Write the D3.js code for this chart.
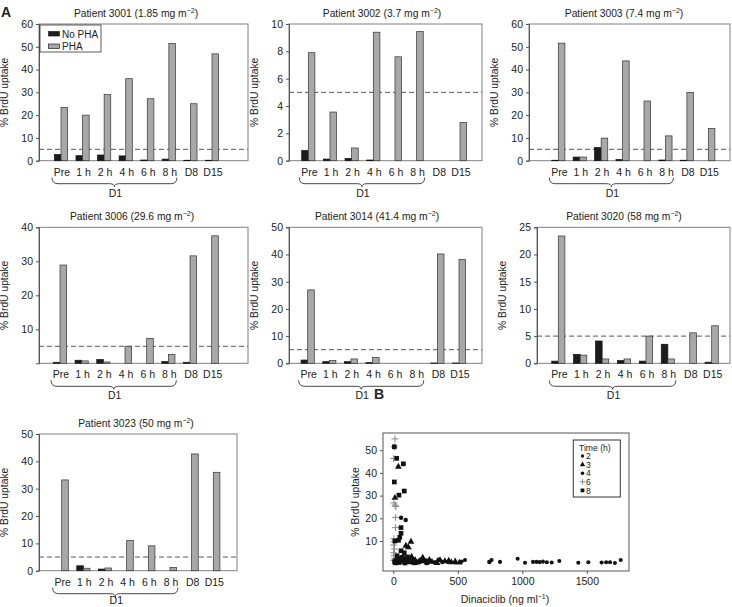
<!DOCTYPE html>
<html>
<head>
<meta charset="utf-8">
<script src="https://cdn.jsdelivr.net/npm/d3@7"></script>
<style>
  body { margin: 0; background: #fff; }
  text { font-family: "Liberation Sans", Arial, sans-serif; fill: #222; }
</style>
</head>
<body>
<svg id="chart" width="732" height="607"></svg>
<script>
// ---- data ----
const categories = ["Pre", "1 h", "2 h", "4 h", "6 h", "8 h", "D8", "D15"];
const patients = ["3001", "3002", "3003", "3006", "3014", "3020", "3023"];
const doses = ["1.85", "3.7", "7.4", "29.6", "41.4", "58", "50"];

const noPha = [
    [2.7, 2.2, 2.5, 2.1, 0.3, 0.7, 0.2, 0.2],
    [0.75, 0.12, 0.17, 0.05, 0, 0, 0, 0],
    [0.2, 1.6, 5.8, 0.5, 0, 0.3, 0.2, 0],
    [0.3, 0.9, 1.1, 0, 0, 0.5, 0.3, 0],
    [1.2, 0.6, 0.6, 0.25, 0, 0, 0.1, 0.1],
    [0.4, 1.65, 4.1, 0.5, 0.4, 3.5, 0, 0.2],
    [0, 1.8, 0.6, 0, 0, 0, 0, 0]
];
const pha = [
    [23.4, 20.0, 29.0, 36.0, 27.2, 51.4, 25.0, 46.9],
    [7.9, 3.56, 0.93, 9.4, 7.6, 9.45, 0, 2.8],
    [51.6, 1.6, 9.9, 43.8, 26.2, 10.9, 30.0, 14.2],
    [28.9, 0.7, 0.4, 5.0, 7.3, 2.6, 31.6, 37.5],
    [27.0, 1.0, 1.6, 2.1, 0, 0, 40.2, 38.2],
    [23.4, 1.5, 0.8, 0.8, 5.0, 0.8, 5.6, 6.9],
    [33.2, 0.9, 1.0, 11.0, 9.1, 1.2, 42.7, 36.0]
];
const yMax = [60, 10, 60, 40, 50, 25, 50];
const yTicks = [
    [0, 10, 20, 30, 40, 50, 60],
    [0, 2, 4, 6, 8, 10],
    [0, 10, 20, 30, 40, 50, 60],
    [10, 20, 30, 40],
    [0, 10, 20, 30, 40, 50],
    [0, 5, 10, 15, 20, 25],
    [0, 10, 20, 30, 40, 50]
];
const threshold = 5;

// panel B: [dinaciclib ng/ml, % BrdU uptake] by time (h)
const scatterTimes = [2, 3, 4, 6, 8];
const time2Points = [
    [556, 1.6], [762, 1.6], [827, 0.8], [964, 2.2], [1021, 0.4], [1083, 0.8],
    [1110, 0.8], [1135, 0.7], [1160, 0.9], [1190, 0.6], [1228, 0.5], [1287, 1.2],
    [1434, 0.4], [1512, 0.6], [1615, 0.5], [1650, 0.6], [1680, 0.6], [1718, 0.3],
    [1763, 1.6], [140, 1.5], [290, 1.2], [350, 1.8], [420, 0.8], [480, 0.5],
    [190, 0.9], [240, 1.6], [330, 0.6], [530, 1.0]
];
const time3Points = [
    [39, 42.7], [13, 29], [137, 9.7], [98, 7.9], [117, 7.2], [142, 3.1],
    [228, 2.6], [362, 1.6], [512, 0.5], [300, 0.8], [450, 0.6], [200, 1.0],
    [170, 1.5], [260, 0.9], [400, 1.1], [65, 1.8], [120, 0.6], [280, 1.7],
    [340, 0.3], [430, 1.3], [480, 1.0]
];
const time4Points = [
    [60, 20.2], [96, 19.3], [80, 2.1], [110, 1.2], [150, 0.8], [200, 0.6],
    [250, 1.0], [320, 0.5], [60, 0.7], [30, 1.1], [745, 0.8], [40, 2.5], [90, 0.4],
    [130, 2.0], [175, 0.3], [215, 1.9], [380, 0.7]
];
const time6Points = [
    [13, 55], [8, 51.5], [3, 46.4], [5, 26.8], [15, 25.8], [20, 25.2],
    [18, 20.4], [18, 15.9], [5, 11], [8, 9.6], [3, 8.2], [10, 6.5],
    [2, 4.8], [6, 3.5], [12, 2.2], [4, 1.5], [20, 1.0], [25, 0.6]
];
const time8Points = [
    [8, 51.5], [26, 46.4], [78, 44], [8, 36], [85, 32], [44, 30.2], [60, 15.9],
    [60, 13.4], [50, 11.6], [40, 10.3], [12, 10], [60, 5.7], [85, 4.8], [30, 3.5],
    [70, 2.8], [100, 2.2], [150, 1.8], [20, 1.4], [120, 1.0], [180, 0.7],
    [45, 0.5], [230, 1.3], [10, 0.9], [90, 0.3], [260, 0.4], [35, 2.3],
    [15, 0.4], [110, 3.0], [160, 0.4]
];
const scatterXTicks = [0, 500, 1000, 1500];
const scatterYTicks = [10, 20, 30, 40, 50];

// ---- layout (pixels) ----
const panels = [
    { left: 39,  right: 248, top: 24,  bottom: 160.7, first: 61,    last: 212,   titleX: 136, d1: 36 },
    { left: 289, right: 482, top: 24,  bottom: 160.7, first: 308.3, last: 460,   titleX: 382, d1: 36 },
    { left: 529, right: 730, top: 24,  bottom: 160.7, first: 558.3, last: 708.3, titleX: 624, d1: 36 },
    { left: 39,  right: 248, top: 227.3, bottom: 363.3, first: 60,  last: 211.7, titleX: 132, d1: 36 },
    { left: 289, right: 482, top: 227.3, bottom: 363.3, first: 307.7, last: 459, titleX: 377, d1: 36 },
    { left: 537, right: 730, top: 227.3, bottom: 363.3, first: 558.3, last: 711.7, titleX: 624, d1: 36 },
    { left: 39,  right: 237, top: 434, bottom: 570.7, first: 61.7,  last: 213.3, titleX: 136, d1: 33.5 }
];
const barW = 6.6;

const svg = d3.select("#chart");

svg.append("text").attr("x", 1).attr("y", 17)
   .attr("font-size", "14px").attr("font-weight", "bold").text("A");
svg.append("text").attr("x", 374).attr("y", 399)
   .attr("font-size", "14px").attr("font-weight", "bold").text("B");

function addTitle(g, x, y, label, dose) {
    const t = g.append("text").attr("x", x).attr("y", y)
        .attr("text-anchor", "middle").attr("font-size", "10.3px");
    t.append("tspan").text(label + " (" + dose + " mg m");
    t.append("tspan").attr("dy", -4).attr("font-size", "7px").text("\u22122");
    t.append("tspan").attr("dy", 4).text(")");
}

function yLabel(x, y) {
    svg.append("text")
       .attr("transform", `translate(${x},${y}) rotate(-90)`)
       .attr("text-anchor", "middle")
       .attr("font-size", "10.3px")
       .text("% BrdU uptake");
}

patients.forEach((p, i) => {
    const L = panels[i];
    const g = svg.append("g");

    const x = d3.scalePoint().domain(categories).range([L.first, L.last]);
    const y = d3.scaleLinear().domain([0, yMax[i]]).range([L.bottom, L.top]);

    // frame
    g.append("rect")
     .attr("x", L.left).attr("y", L.top)
     .attr("width", L.right - L.left).attr("height", L.bottom - L.top)
     .attr("fill", "none").attr("stroke", "#808080").attr("stroke-width", 1);

    // y axis
    const ax = g.append("g")
        .attr("transform", `translate(${L.left},0)`)
        .call(d3.axisLeft(y).tickValues(yTicks[i]).tickSize(3).tickPadding(3));
    ax.select(".domain").attr("stroke", "#555");
    ax.selectAll(".tick line").attr("stroke", "#555");
    ax.selectAll("text").attr("font-size", "10.5px")
      .attr("font-family", "Liberation Sans, Arial, sans-serif").attr("fill", "#222");

    // threshold line
    g.append("line")
     .attr("x1", L.left).attr("x2", L.right)
     .attr("y1", y(threshold)).attr("y2", y(threshold))
     .attr("stroke", "#555").attr("stroke-width", 1)
     .attr("stroke-dasharray", "5,3");

    // bars
    const rows = categories.map((c, k) => ({ c, a: noPha[i][k], b: pha[i][k] }));
    g.selectAll(".nopha").data(rows.filter(d => d.a > 0)).enter().append("rect")
     .attr("x", d => x(d.c) - barW)
     .attr("y", d => y(d.a))
     .attr("width", barW)
     .attr("height", d => y(0) - y(d.a))
     .attr("fill", "#1c1c1c").attr("stroke", "#111").attr("stroke-width", 0.7);
    g.selectAll(".pha").data(rows.filter(d => d.b > 0)).enter().append("rect")
     .attr("x", d => x(d.c))
     .attr("y", d => y(d.b))
     .attr("width", barW)
     .attr("height", d => y(0) - y(d.b))
     .attr("fill", "#a8a8a8").attr("stroke", "#333").attr("stroke-width", 0.7);

    // category labels
    g.selectAll(".cat").data(categories).enter().append("text")
     .attr("x", d => x(d) + 1)
     .attr("y", L.bottom + 15)
     .attr("text-anchor", "middle")
     .attr("font-size", "10.5px")
     .text(d => d);

    // D1 brace
    const x0 = x("Pre") - 9, x1 = x("8 h") + 8, mid = (x0 + x1) / 2;
    const by = L.bottom + 17, bh = 6;
    g.append("path")
     .attr("d", `M${x0},${by} Q${x0},${by + bh} ${x0 + 6},${by + bh}
                 L${mid - 5},${by + bh} Q${mid},${by + bh} ${mid},${by + bh + 3}
                 Q${mid},${by + bh} ${mid + 5},${by + bh}
                 L${x1 - 6},${by + bh} Q${x1},${by + bh} ${x1},${by}`)
     .attr("fill", "none").attr("stroke", "#333").attr("stroke-width", 0.9);
    g.append("text").attr("x", mid + 1).attr("y", L.bottom + L.d1)
     .attr("text-anchor", "middle").attr("font-size", "10.5px").text("D1");

    addTitle(g, L.titleX, L.top - 7, "Patient " + p, doses[i]);
    yLabel(L.left - 31, (L.top + L.bottom) / 2);
});

// legend in first panel
const lg = svg.append("g");
lg.append("rect").attr("x", 40).attr("y", 25).attr("width", 61).attr("height", 27)
  .attr("fill", "#fff").attr("stroke", "#333").attr("stroke-width", 0.8);
[["No PHA", "#1c1c1c"], ["PHA", "#a8a8a8"]].forEach((d, k) => {
    lg.append("rect").attr("x", 48.5).attr("y", 31.5 + k * 12.5)
      .attr("width", 11).attr("height", 4.5)
      .attr("fill", d[1]).attr("stroke", "#222").attr("stroke-width", 0.7);
    lg.append("text").attr("x", 62).attr("y", 37.5 + k * 12.5)
      .attr("font-size", "10px").text(d[0]);
});

// ---- panel B scatter ----
const B = { left: 383, right: 629, top: 433, bottom: 571 };
const sx = d3.scaleLinear().domain([0, 1500]).range([393.3, 586.8]);
const sy = d3.scaleLinear().domain([0, 50]).range([563.7, 450.2]);

const sg = svg.append("g");
sg.append("rect")
  .attr("x", B.left).attr("y", B.top)
  .attr("width", B.right - B.left).attr("height", B.bottom - B.top)
  .attr("fill", "none").attr("stroke", "#555").attr("stroke-width", 1);

const sxa = sg.append("g").attr("transform", `translate(0,${B.bottom})`)
    .call(d3.axisBottom(sx).tickValues(scatterXTicks).tickFormat(d3.format("d"))
          .tickSize(3).tickPadding(4));
const sya = sg.append("g").attr("transform", `translate(${B.left},0)`)
    .call(d3.axisLeft(sy).tickValues(scatterYTicks).tickFormat(d3.format("d"))
          .tickSize(3).tickPadding(3));
[sxa, sya].forEach(a => {
    a.select(".domain").remove();
    a.selectAll(".tick line").attr("stroke", "#555");
    a.selectAll("text").attr("font-size", "10.5px")
     .attr("font-family", "Liberation Sans, Arial, sans-serif").attr("fill", "#222");
});

const symbolStyle = {
    2: { type: d3.symbolCircle, size: 13, fill: "#111" },
    3: { type: d3.symbolTriangle, size: 20, fill: "#111" },
    4: { type: d3.symbolCircle, size: 16, fill: "#111" },
    6: { type: null, size: 0, fill: "none", stroke: "#888" },
    8: { type: d3.symbolSquare, size: 22, fill: "#111" }
};
const pointsByTime = { 2: time2Points, 3: time3Points, 4: time4Points, 6: time6Points, 8: time8Points };

function drawSymbol(g, t, px, py, scale) {
    const st = symbolStyle[t];
    if (t === 6) {
        const r = 3.5 * scale;
        g.append("path")
         .attr("d", `M${px - r},${py}H${px + r}M${px},${py - r}V${py + r}`)
         .attr("stroke", st.stroke).attr("stroke-width", 1).attr("fill", "none");
    } else {
        g.append("path")
         .attr("transform", `translate(${px},${py})`)
         .attr("d", d3.symbol().type(st.type).size(st.size * scale * scale)())
         .attr("fill", st.fill);
    }
}

scatterTimes.forEach(t => {
    pointsByTime[t].forEach(d => drawSymbol(sg, t, sx(d[0]), sy(d[1]), 1));
});

sg.append("text").attr("x", 505).attr("y", 603)
  .attr("text-anchor", "middle").attr("font-size", "10.5px")
  .call(t => {
      t.append("tspan").text("Dinaciclib (ng ml");
      t.append("tspan").attr("dy", -4).attr("font-size", "7px").text("\u22121");
      t.append("tspan").attr("dy", 4).text(")");
  });
yLabel(359, 502);

// scatter legend
const sl = sg.append("g");
sl.append("rect").attr("x", 573.3).attr("y", 440).attr("width", 47).attr("height", 57)
  .attr("fill", "#fff").attr("stroke", "#333").attr("stroke-width", 1);
sl.append("text").attr("x", 579).attr("y", 450.5).attr("font-size", "8.6px").text("Time (h)");
scatterTimes.forEach((t, k) => {
    const yy = 456 + k * 8.6;
    drawSymbol(sl, t, 582.5, yy, 0.8);
    sl.append("text").attr("x", 586).attr("y", yy + 3.1).attr("font-size", "8.6px").text(t);
});
</script>
</body>
</html>
